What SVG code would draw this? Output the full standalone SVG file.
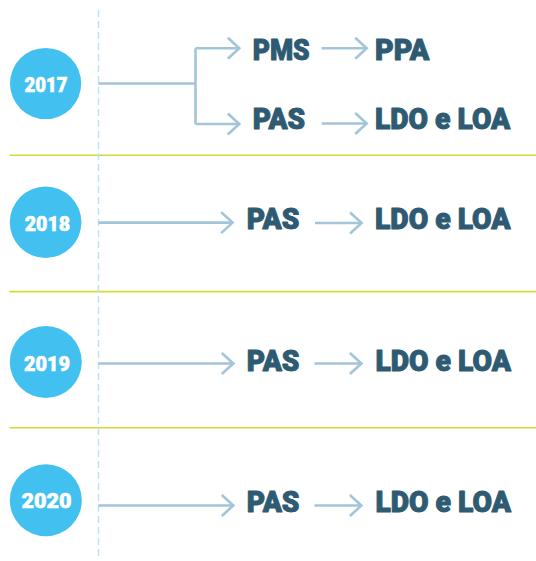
<svg xmlns="http://www.w3.org/2000/svg" width="536" height="561" viewBox="0 0 536 561">
  <style>
    .sep { stroke: #D3DB35; stroke-width: 1.6; fill: none; }
    .guide { stroke: #BEE2F5; stroke-width: 1.5; stroke-dasharray: 7 4; fill: none; }
    .conn { stroke: #A2C5D9; stroke-width: 2.6; fill: none; }
    .year-c { fill: #42C0F0; }
    .year-t { font-family: Roboto, Lato, "Liberation Sans", sans-serif; font-weight: 900; font-size: 21px; fill: #FFFFFF; text-anchor: middle; stroke: #FFFFFF; stroke-width: 0.6; }
    .lbl { font-family: Roboto, Lato, "Liberation Sans", sans-serif; font-weight: 900; font-size: 29px; fill: #2E5A72; stroke: #2E5A72; stroke-width: 1; stroke-linejoin: round; }
  </style>
  <defs>
    <marker id="chev" markerUnits="userSpaceOnUse" markerWidth="20" markerHeight="26" refX="16" refY="13" orient="auto" overflow="visible">
      <path d="M4.5,2.5 L16,13 L4.5,23.5" fill="none" stroke="#A2C5D9" stroke-width="2.6"/>
    </marker>
  </defs>

  <rect width="536" height="561" fill="#FFFFFF"/>

  <g id="separators">
    <line class="sep" x1="9.5" y1="155.2" x2="536" y2="155.2"/>
    <line class="sep" x1="9.5" y1="291.6" x2="536" y2="291.6"/>
    <line class="sep" x1="9.5" y1="427.8" x2="536" y2="427.8"/>
  </g>
  <line id="timeline" class="guide" x1="98.5" y1="10" x2="98.5" y2="556"/>

  <g id="connectors">
    <path class="conn" d="M98.5,83.5 H195.5 M195.5,48.3 V124"/>
    <path class="conn" d="M195.5,48.3 H239.3" marker-end="url(#chev)"/>
    <path class="conn" d="M195.5,124 H239.3" marker-end="url(#chev)"/>
    <path class="conn" d="M321.7,48.3 H366.7" marker-end="url(#chev)"/>
    <path class="conn" d="M321.7,123.5 H366.7" marker-end="url(#chev)"/>

    <path class="conn" d="M98.5,222.6 H232.6" marker-end="url(#chev)"/>
    <path class="conn" d="M315,223 H361.6" marker-end="url(#chev)"/>

    <path class="conn" d="M98.5,363.5 H233.3" marker-end="url(#chev)"/>
    <path class="conn" d="M314.5,363.5 H361.4" marker-end="url(#chev)"/>

    <path class="conn" d="M98.5,505.5 H233.3" marker-end="url(#chev)"/>
    <path class="conn" d="M314.5,505.5 H361.4" marker-end="url(#chev)"/>
  </g>

  <g id="y2017">
    <circle class="year-c" cx="45.6" cy="83.5" r="35.6"/>
    <text class="year-t" x="46" y="91.7" textLength="43" lengthAdjust="spacingAndGlyphs">2017</text>
  </g>
  <g id="y2018">
    <circle class="year-c" cx="45.6" cy="222.3" r="35.8"/>
    <text class="year-t" x="47.5" y="231" textLength="45.5" lengthAdjust="spacingAndGlyphs">2018</text>
  </g>
  <g id="y2019">
    <circle class="year-c" cx="45.8" cy="362" r="36"/>
    <text class="year-t" x="47" y="371.2" textLength="46" lengthAdjust="spacingAndGlyphs">2019</text>
  </g>
  <g id="y2020">
    <circle class="year-c" cx="45.8" cy="500.3" r="36"/>
    <text class="year-t" x="46.5" y="508.2" textLength="50" lengthAdjust="spacingAndGlyphs">2020</text>
  </g>

  <g id="pms2017"><text class="lbl" x="252.7" y="60" textLength="57" lengthAdjust="spacingAndGlyphs">PMS</text></g>
  <g id="ppa2017"><text class="lbl" x="375" y="60" textLength="54.4" lengthAdjust="spacingAndGlyphs">PPA</text></g>
  <g id="pas2017"><text class="lbl" x="252.7" y="129.2" textLength="52.4" lengthAdjust="spacingAndGlyphs">PAS</text></g>
  <g id="ldo2017"><text class="lbl" x="375" y="129.2" textLength="135.3" lengthAdjust="spacingAndGlyphs">LDO e LOA</text></g>

  <g id="pas2018"><text class="lbl" x="246.7" y="229" textLength="52.6" lengthAdjust="spacingAndGlyphs">PAS</text></g>
  <g id="ldo2018"><text class="lbl" x="375" y="229" textLength="135.6" lengthAdjust="spacingAndGlyphs">LDO e LOA</text></g>

  <g id="pas2019"><text class="lbl" x="246.8" y="370.7" textLength="52.6" lengthAdjust="spacingAndGlyphs">PAS</text></g>
  <g id="ldo2019"><text class="lbl" x="375.4" y="370.7" textLength="135.6" lengthAdjust="spacingAndGlyphs">LDO e LOA</text></g>

  <g id="pas2020"><text class="lbl" x="246.8" y="511.6" textLength="52.6" lengthAdjust="spacingAndGlyphs">PAS</text></g>
  <g id="ldo2020"><text class="lbl" x="375.4" y="511.6" textLength="135.6" lengthAdjust="spacingAndGlyphs">LDO e LOA</text></g>
</svg>
